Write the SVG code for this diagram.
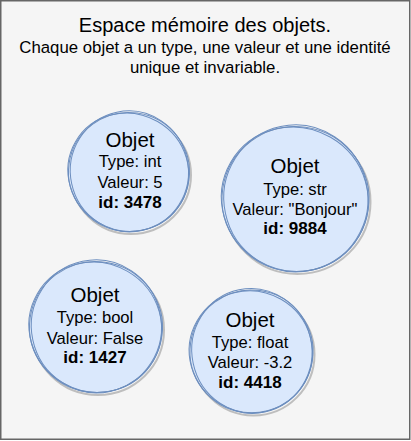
<svg xmlns="http://www.w3.org/2000/svg" width="411" height="441" viewBox="0 0 411 441">
<style>
.bg{fill:#f5f5f5;stroke:#666666;stroke-width:1.5}
.fill{fill:#dae8fc;stroke:none}
.shadow{fill:none;stroke:#9a9a9a;stroke-width:2;opacity:0.6}
.s{fill:none;stroke:#6c8ebf;stroke-width:1}
text{font-family:"Liberation Sans",Arial,sans-serif;fill:#000000;text-anchor:middle}
.t{font-size:20px}
.st{font-size:16.8px}
.h{font-size:20.5px}
.l{font-size:16.6px}
.b{font-size:17px;font-weight:bold}
</style>
<rect class="bg" x="0.75" y="0.75" width="409" height="438.5"/>
<g id="title">
<text class="t" x="205" y="32">Espace mémoire des objets.</text>
<text class="st" x="205" y="53">Chaque objet a un type, une valeur et une identité</text>
<text class="st" x="205" y="73">unique et invariable.</text>
</g>
<g id="obj1">
<ellipse class="shadow" cx="131" cy="175" rx="60" ry="59"/>
<ellipse class="fill" cx="129" cy="172" rx="60" ry="59"/>
<ellipse class="s" cx="129" cy="172" rx="60.5" ry="59.5" transform="rotate(8 129 172)"/>
<ellipse class="s" cx="129.5" cy="171.5" rx="59" ry="60.5" transform="rotate(-12 129 172)"/>
<ellipse class="s" cx="128.5" cy="172.5" rx="61" ry="58.5" transform="rotate(30 129 172)"/>
<text class="h" x="130" y="147">Objet</text>
<text class="l" x="130" y="167">Type: int</text>
<text class="l" x="130" y="188">Valeur: 5</text>
<text class="b" x="130" y="208">id: 3478</text>
</g>
<g id="obj2">
<ellipse class="shadow" cx="297.5" cy="202" rx="73" ry="72"/>
<ellipse class="fill" cx="295.5" cy="199" rx="73" ry="72"/>
<ellipse class="s" cx="295.5" cy="199" rx="73.5" ry="72.5" transform="rotate(8 295.5 199)"/>
<ellipse class="s" cx="296" cy="198.5" rx="72" ry="73.5" transform="rotate(-12 295.5 199)"/>
<ellipse class="s" cx="295" cy="199.5" rx="74" ry="71.5" transform="rotate(30 295.5 199)"/>
<text class="h" x="295" y="173">Objet</text>
<text class="l" x="295" y="195">Type: str</text>
<text class="l" x="295" y="215">Valeur: "Bonjour"</text>
<text class="b" x="295" y="234">id: 9884</text>
</g>
<g id="obj3">
<ellipse class="shadow" cx="98" cy="330" rx="66" ry="65"/>
<ellipse class="fill" cx="96" cy="327" rx="66" ry="65"/>
<ellipse class="s" cx="96" cy="327" rx="66.5" ry="65.5" transform="rotate(8 96 327)"/>
<ellipse class="s" cx="96.5" cy="326.5" rx="65" ry="66.5" transform="rotate(-12 96 327)"/>
<ellipse class="s" cx="95.5" cy="327.5" rx="67" ry="64.5" transform="rotate(30 96 327)"/>
<text class="h" x="95" y="302">Objet</text>
<text class="l" x="95" y="323">Type: bool</text>
<text class="l" x="95" y="344">Valeur: False</text>
<text class="b" x="95" y="363">id: 1427</text>
</g>
<g id="obj4">
<ellipse class="shadow" cx="253.5" cy="354.5" rx="61" ry="61"/>
<ellipse class="fill" cx="251.5" cy="351.5" rx="61" ry="61"/>
<ellipse class="s" cx="251.5" cy="351.5" rx="61.5" ry="61.5" transform="rotate(8 251.5 351.5)"/>
<ellipse class="s" cx="252" cy="351" rx="60" ry="62.5" transform="rotate(-12 251.5 351.5)"/>
<ellipse class="s" cx="251" cy="352" rx="62" ry="60.5" transform="rotate(30 251.5 351.5)"/>
<text class="h" x="250" y="327">Objet</text>
<text class="l" x="250" y="348">Type: float</text>
<text class="l" x="250" y="368">Valeur: -3.2</text>
<text class="b" x="250" y="388">id: 4418</text>
</g>
<g id="connectors"/>
</svg>
